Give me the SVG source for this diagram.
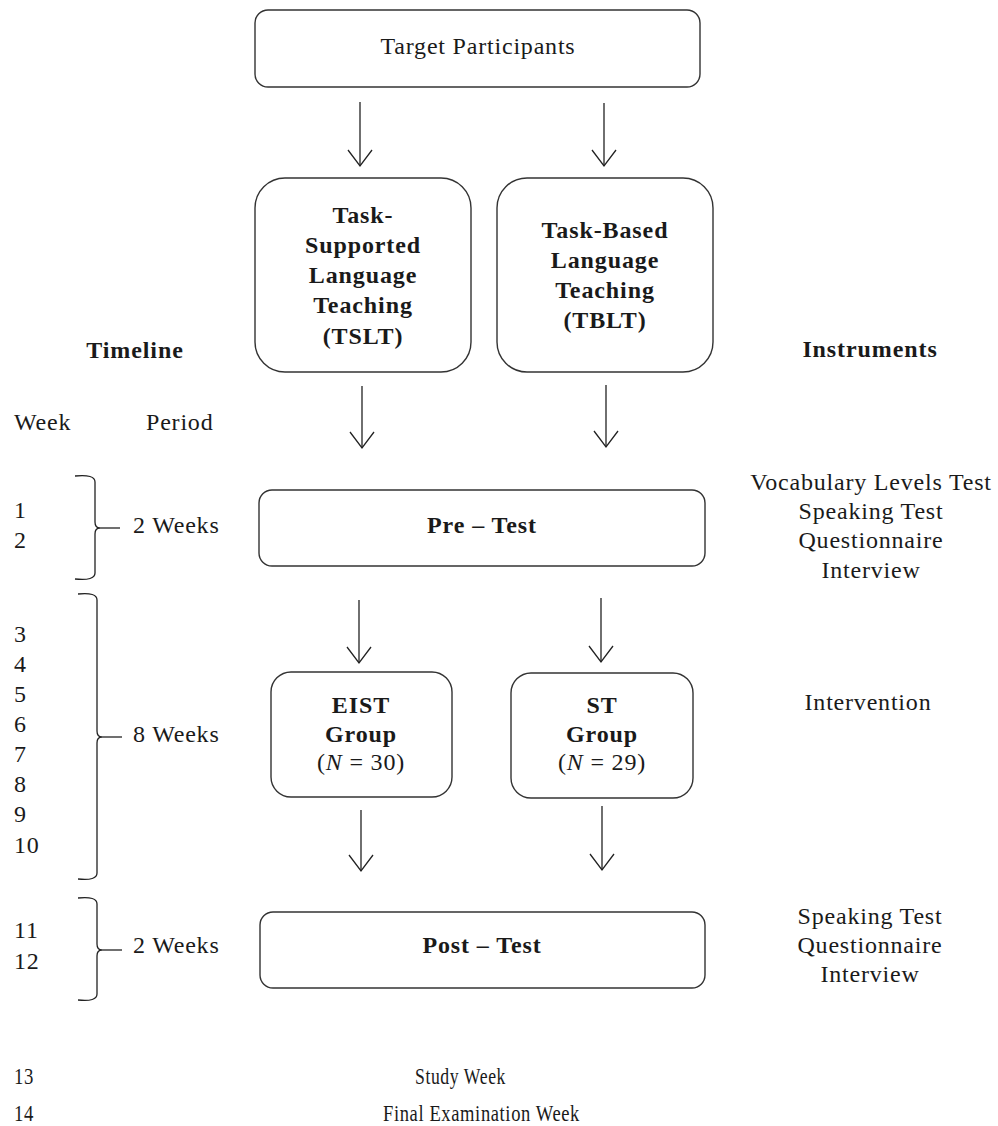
<svg xmlns="http://www.w3.org/2000/svg" width="998" height="1126" viewBox="0 0 998 1126">
<style>
text{font-family:"Liberation Serif","Times New Roman",serif;font-size:24px;fill:#1a1a1a;letter-spacing:0.8px}
.b{font-weight:bold;letter-spacing:0.9px}
.m{text-anchor:middle}
.box{fill:#fff;stroke:#333;stroke-width:1.4}
.con{stroke:#222;stroke-width:1.3;fill:none}
</style>
<defs>
<marker id="ah" viewBox="-17 -13 18 26" refX="0" refY="0" markerWidth="18" markerHeight="26" markerUnits="userSpaceOnUse" orient="auto" overflow="visible">
<path d="M-16,-12 L0,0 L-16,12" fill="none" stroke="#222" stroke-width="1.3"/>
</marker>
</defs>
<rect width="998" height="1126" fill="#fff"/>

<g id="connectors">
<line class="con" x1="360" y1="102" x2="360" y2="166" marker-end="url(#ah)"/>
<line class="con" x1="604" y1="103" x2="604" y2="166" marker-end="url(#ah)"/>
<line class="con" x1="362" y1="386" x2="362" y2="448" marker-end="url(#ah)"/>
<line class="con" x1="606" y1="385" x2="606" y2="447" marker-end="url(#ah)"/>
<line class="con" x1="359" y1="600" x2="359" y2="663" marker-end="url(#ah)"/>
<line class="con" x1="601" y1="598" x2="601" y2="662" marker-end="url(#ah)"/>
<line class="con" x1="361" y1="810" x2="361" y2="871" marker-end="url(#ah)"/>
<line class="con" x1="602" y1="806" x2="602" y2="870" marker-end="url(#ah)"/>
</g>

<g id="target">
<rect class="box" x="255" y="10" width="445" height="77" rx="13"/>
<text class="m" x="478" y="54">Target Participants</text>
</g>

<g id="tslt">
<rect class="box" x="255" y="178" width="216" height="194" rx="30"/>
<text class="b m" x="363" y="223">Task-</text>
<text class="b m" x="363" y="253">Supported</text>
<text class="b m" x="363" y="283">Language</text>
<text class="b m" x="363" y="313">Teaching</text>
<text class="b m" x="363" y="344">(TSLT)</text>
</g>

<g id="tblt">
<rect class="box" x="497" y="178" width="216" height="194" rx="30"/>
<text class="b m" x="605" y="238">Task-Based</text>
<text class="b m" x="605" y="268">Language</text>
<text class="b m" x="605" y="298">Teaching</text>
<text class="b m" x="605" y="328">(TBLT)</text>
</g>

<g id="timeline-header">
<text class="b m" x="135" y="358">Timeline</text>
<text x="14" y="430">Week</text>
<text x="146" y="430">Period</text>
</g>

<g id="instruments-header">
<text class="b m" x="870" y="357">Instruments</text>
</g>

<g id="pretest">
<rect class="box" x="259" y="490" width="446" height="76" rx="13"/>
<text class="b m" x="482" y="533">Pre – Test</text>
</g>

<g id="pre-instruments">
<text class="m" x="871" y="490">Vocabulary Levels Test</text>
<text class="m" x="871" y="519">Speaking Test</text>
<text class="m" x="871" y="548">Questionnaire</text>
<text class="m" x="871" y="578">Interview</text>
</g>

<g id="brace1">
<path class="con" d="M75,476 Q95,474 95,482 L95,522 Q95,528 100,528 Q95,528 95,534 L95,573 Q95,581 75,579"/>
<line class="con" x1="100" y1="528" x2="120" y2="528"/>
<text x="14" y="518">1</text>
<text x="14" y="548">2</text>
<text x="133" y="533">2 Weeks</text>
</g>

<g id="brace2">
<path class="con" d="M78,594 Q97,592 97,600 L97,731 Q97,737 102,737 Q97,737 97,743 L97,873 Q97,881 78,879"/>
<line class="con" x1="102" y1="737" x2="122" y2="737"/>
<text x="14" y="642">3</text>
<text x="14" y="672">4</text>
<text x="14" y="702">5</text>
<text x="14" y="732">6</text>
<text x="14" y="762">7</text>
<text x="14" y="792">8</text>
<text x="14" y="822">9</text>
<text x="14" y="853">10</text>
<text x="133" y="742">8 Weeks</text>
</g>

<g id="eist">
<rect class="box" x="271" y="672" width="181" height="125" rx="20"/>
<text class="b m" x="361" y="713">EIST</text>
<text class="b m" x="361" y="742">Group</text>
<text class="m" x="361" y="770">(<tspan font-style="italic">N</tspan> = 30)</text>
</g>

<g id="st">
<rect class="box" x="511" y="673" width="182" height="125" rx="20"/>
<text class="b m" x="602" y="713">ST</text>
<text class="b m" x="602" y="742">Group</text>
<text class="m" x="602" y="770">(<tspan font-style="italic">N</tspan> = 29)</text>
</g>

<g id="intervention">
<text class="m" x="868" y="710">Intervention</text>
</g>

<g id="posttest">
<rect class="box" x="260" y="912" width="445" height="76" rx="13"/>
<text class="b m" x="482" y="953">Post – Test</text>
</g>

<g id="post-instruments">
<text class="m" x="870" y="924">Speaking Test</text>
<text class="m" x="870" y="953">Questionnaire</text>
<text class="m" x="870" y="982">Interview</text>
</g>

<g id="brace3">
<path class="con" d="M78,898 Q97,896 97,904 L97,944 Q97,950 102,950 Q97,950 97,956 L97,994 Q97,1002 78,1000"/>
<line class="con" x1="102" y1="950" x2="122" y2="950"/>
<text x="14" y="938">11</text>
<text x="14" y="969">12</text>
<text x="133" y="953">2 Weeks</text>
</g>

<g id="final-weeks">
<text x="14" y="1084" textLength="20" lengthAdjust="spacingAndGlyphs">13</text>
<text x="415" y="1084" textLength="91" lengthAdjust="spacingAndGlyphs">Study Week</text>
<text x="14" y="1121" textLength="20" lengthAdjust="spacingAndGlyphs">14</text>
<text x="383" y="1121" textLength="197" lengthAdjust="spacingAndGlyphs">Final Examination Week</text>
</g>
</svg>
